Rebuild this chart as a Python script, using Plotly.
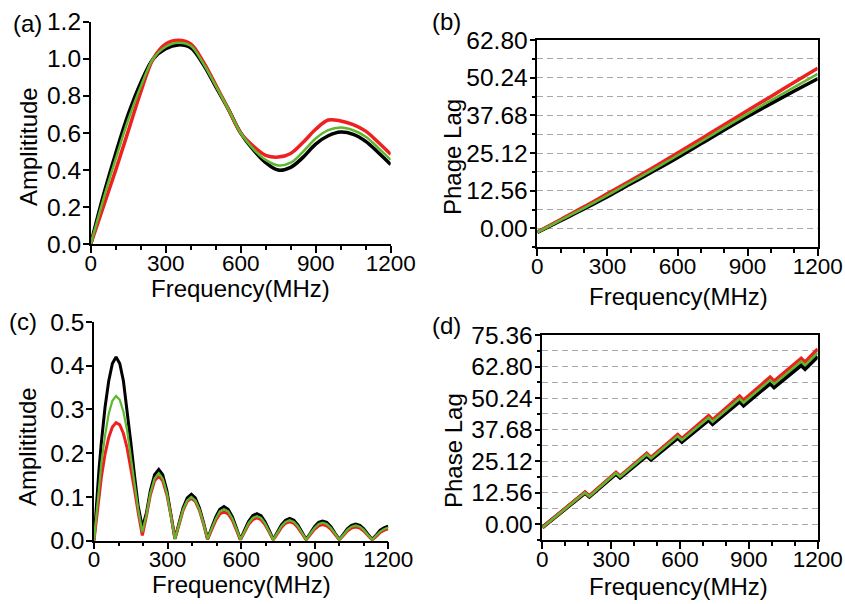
import plotly.graph_objects as go

# ---------------- data ----------------
freq_a = [0, 50, 100, 150, 200, 250, 300, 350, 400, 450, 500, 550, 600,
          650, 700, 750, 800, 850, 900, 950, 1000, 1050, 1100, 1150, 1200]
amp_a_black = [0, 0.26, 0.49, 0.70, 0.87, 1.0, 1.055, 1.075, 1.06, 0.97, 0.85, 0.73, 0.60,
               0.51, 0.44, 0.40, 0.415, 0.47, 0.54, 0.585, 0.605, 0.593, 0.555, 0.495, 0.43]
amp_a_green = [0, 0.24, 0.46, 0.67, 0.85, 1.0, 1.065, 1.087, 1.07, 0.975, 0.855, 0.73, 0.60,
               0.515, 0.455, 0.425, 0.44, 0.50, 0.57, 0.615, 0.63, 0.615, 0.58, 0.52, 0.455]
amp_a_red = [0, 0.20, 0.40, 0.61, 0.82, 1.0, 1.08, 1.10, 1.08, 0.985, 0.86, 0.73, 0.60,
             0.53, 0.48, 0.47, 0.49, 0.55, 0.62, 0.67, 0.665, 0.645, 0.61, 0.55, 0.485]

freq_b = [0, 100, 200, 300, 400, 500, 600, 700, 800, 900, 1000, 1100, 1200]
phase_b_black = [-1.3, 2.6, 6.5, 10.6, 14.9, 19.2, 23.6, 28.2, 32.8, 37.3, 41.6, 45.8, 49.9]
phase_b_green = [-1.3, 2.8, 6.8, 11.0, 15.4, 19.8, 24.3, 28.9, 33.6, 38.2, 42.7, 47.1, 51.5]
phase_b_red = [-1.2, 3.0, 7.2, 11.6, 16.0, 20.5, 25.1, 29.8, 34.6, 39.3, 44.0, 48.7, 53.4]

freq_c = [0, 10, 20, 30, 45, 60, 75, 90, 105, 120, 135, 150, 165, 180, 197,
          214, 230, 247, 264, 280, 297, 314, 330,
          347, 363, 380, 397, 413, 430, 447, 463,
          480, 497, 513, 530, 547, 564, 580, 597,
          614, 630, 647, 664, 681, 697, 714, 731,
          748, 764, 781, 798, 815, 831, 848, 865,
          882, 899, 916, 932, 949, 966, 983, 1000,
          1017, 1033, 1050, 1067, 1084, 1100, 1117, 1134,
          1151, 1167, 1184, 1200]
amp_c_black = [0, 0.085, 0.16, 0.225, 0.305, 0.365, 0.405, 0.42, 0.405, 0.365, 0.30, 0.225, 0.15, 0.08, 0.03,
               0.064, 0.115, 0.151, 0.163, 0.151, 0.115, 0.062, 0.005,
               0.041, 0.075, 0.098, 0.106, 0.098, 0.075, 0.041, 0.004,
               0.030, 0.055, 0.072, 0.078, 0.072, 0.055, 0.030, 0.003,
               0.024, 0.044, 0.057, 0.062, 0.057, 0.044, 0.024, 0.003,
               0.020, 0.036, 0.047, 0.051, 0.047, 0.036, 0.020, 0.003,
               0.017, 0.032, 0.042, 0.045, 0.042, 0.032, 0.017, 0.003,
               0.015, 0.027, 0.035, 0.038, 0.035, 0.027, 0.015, 0.003,
               0.013, 0.024, 0.030, 0.033]
amp_c_green = [0, 0.065, 0.125, 0.178, 0.24, 0.29, 0.32, 0.331, 0.322, 0.295, 0.252, 0.195, 0.132, 0.072, 0.02,
               0.059, 0.109, 0.142, 0.154, 0.142, 0.109, 0.059, 0.004,
               0.038, 0.071, 0.092, 0.100, 0.092, 0.071, 0.038, 0.004,
               0.028, 0.051, 0.067, 0.072, 0.067, 0.051, 0.028, 0.003,
               0.021, 0.040, 0.052, 0.056, 0.052, 0.040, 0.021, 0.002,
               0.018, 0.033, 0.043, 0.047, 0.043, 0.033, 0.018, 0.002,
               0.016, 0.029, 0.038, 0.041, 0.038, 0.029, 0.016, 0.002,
               0.013, 0.025, 0.032, 0.035, 0.032, 0.025, 0.013, 0.002,
               0.012, 0.021, 0.027, 0.030]
amp_c_red = [0, 0.052, 0.102, 0.145, 0.198, 0.236, 0.260, 0.27, 0.265, 0.245, 0.212, 0.168, 0.117, 0.065, 0.012,
             0.057, 0.105, 0.137, 0.148, 0.137, 0.105, 0.057, 0.004,
             0.037, 0.069, 0.090, 0.097, 0.090, 0.069, 0.037, 0.003,
             0.025, 0.047, 0.061, 0.066, 0.061, 0.047, 0.025, 0.002,
             0.020, 0.037, 0.048, 0.052, 0.048, 0.037, 0.020, 0.002,
             0.016, 0.030, 0.040, 0.043, 0.040, 0.030, 0.016, 0.002,
             0.014, 0.026, 0.034, 0.037, 0.034, 0.026, 0.014, 0.002,
             0.012, 0.022, 0.029, 0.031, 0.029, 0.022, 0.012, 0.002,
             0.010, 0.019, 0.024, 0.027]

freq_d = [0, 100, 186, 205, 321, 339, 455, 474, 590, 608, 725, 742,
          860, 877, 993, 1010, 1128, 1145, 1200]
phase_d_black = [-1.3, 6.1, 12.5, 11.0, 20.1, 18.6, 27.3, 25.7, 34.4, 32.8, 41.5, 39.9,
                 48.9, 47.3, 56.1, 54.5, 63.3, 61.8, 66.8]
phase_d_green = [-1.3, 6.2, 12.6, 11.1, 20.4, 18.9, 27.8, 26.2, 35.1, 33.5, 42.4, 40.8,
                 50.0, 48.4, 57.4, 55.8, 64.8, 63.3, 68.3]
phase_d_red = [-1.3, 6.3, 12.8, 11.3, 20.7, 19.2, 28.2, 26.6, 35.7, 34.1, 43.2, 41.6,
               51.0, 49.4, 58.6, 57.0, 66.1, 64.6, 69.8]

x_ticks = [0, 300, 600, 900, 1200]
x_minor = [100, 200, 400, 500, 700, 800, 1000, 1100]
y_ticks_b = [0, 12.56, 25.12, 37.68, 50.24, 62.80]
y_labels_b = ["0.00", "12.56", "25.12", "37.68", "50.24", "62.80"]
y_minor_b = [-6.28, 6.28, 18.84, 31.40, 43.96, 56.52]
y_ticks_d = [0, 12.56, 25.12, 37.68, 50.24, 62.80, 75.36]
y_labels_d = ["0.00", "12.56", "25.12", "37.68", "50.24", "62.80", "75.36"]
y_minor_d = [-6.28, 6.28, 18.84, 31.40, 43.96, 56.52, 69.08]

# ---------------- style ----------------
W, H = 845, 604
FONT = "Arial, 'Liberation Sans', Helvetica, sans-serif"
XTICKF = dict(family=FONT, size=22.5, color="black")
YTICKF = dict(family=FONT, size=24.5, color="black")
TITLE_SIZE = 24
BLACK, GREEN, RED = "#000000", "#5cb82c", "#ee2020"
GRID = "#a8a8a8"


def fx(px):
    return px / W


def fy(py):
    return 1 - py / H


def px_dom(x0, x1):
    return [fx(x0), fx(x1)]


def py_dom(ytop, ybot):
    return [fy(ybot), fy(ytop)]


def xaxis(dom, anchor, mirror):
    return dict(domain=dom, anchor=anchor, range=[0, 1200], automargin=False,
                tickvals=x_ticks, ticks="outside", ticklen=7, tickwidth=1.5, tickcolor="black",
                ticklabelstandoff=-9,
                minor=dict(tickvals=x_minor, ticks="outside", ticklen=4, tickwidth=1.5, tickcolor="black"),
                showline=True, linecolor="black", linewidth=1.5, mirror=mirror,
                showgrid=False, zeroline=False, tickfont=XTICKF)


fig = go.Figure()


def add(x, ys, xa, ya, widths=(3.5, 3.5, 2.5), shape="spline"):
    for y, c, w in zip(ys, (BLACK, RED, GREEN), widths):
        fig.add_trace(go.Scatter(x=x, y=y, xaxis=xa, yaxis=ya, mode="lines",
                                 line=dict(color=c, width=w, shape=shape),
                                 showlegend=False, hoverinfo="skip", cliponaxis=False))


add(freq_a, [amp_a_black, amp_a_red, amp_a_green], "x", "y")
add(freq_b, [phase_b_black, phase_b_red, phase_b_green], "x2", "y2")
add(freq_c, [amp_c_black, amp_c_red, amp_c_green], "x3", "y3", widths=(3, 3, 2.2), shape="linear")
add(freq_d, [phase_d_black, phase_d_red, phase_d_green], "x4", "y4", widths=(4, 3.5, 2.5), shape="linear")

yleft = dict(ticks="outside", ticklen=6, tickwidth=1.5, tickcolor="black", automargin=False,
             ticklabelstandoff=-3,
             showline=True, linecolor="black", linewidth=1.5,
             showgrid=False, zeroline=False, tickfont=YTICKF)
ygrid = {**yleft, "showgrid": True, "gridcolor": GRID, "griddash": "6px,4px", "gridwidth": 1}

fig.update_layout(
    width=W, height=H, margin=dict(l=0, r=0, t=0, b=0, autoexpand=False),
    paper_bgcolor="white", plot_bgcolor="white", showlegend=False,
    font=dict(family=FONT, color="black"),
    xaxis=xaxis(px_dom(90.7, 390.7), "y", False),
    yaxis=dict(domain=py_dom(21.7, 244.3), anchor="x", range=[0, 1.2], dtick=0.2, tick0=0,
               tickformat=".1f", **yleft),
    xaxis2=xaxis(px_dom(537.3, 817.7), "y2", True),
    yaxis2=dict(domain=py_dom(40, 247.3), anchor="x2", range=[-6.28, 62.8],
                tickvals=y_ticks_b, ticktext=y_labels_b, mirror=True,
                minor=dict(tickvals=y_minor_b, ticks="outside", ticklen=4, tickwidth=1.5, tickcolor="black",
                           showgrid=True, gridcolor=GRID, griddash="6px,4px", gridwidth=1),
                **ygrid),
    xaxis3=xaxis(px_dom(94, 388.3), "y3", False),
    yaxis3=dict(domain=py_dom(322, 540.7), anchor="x3", range=[0, 0.5], dtick=0.1, tick0=0,
                tickformat=".1f", **yleft),
    xaxis4=xaxis(px_dom(542.3, 817.7), "y4", True),
    yaxis4=dict(domain=py_dom(335, 540), anchor="x4", range=[-6.28, 75.36],
                tickvals=y_ticks_d, ticktext=y_labels_d, mirror=True,
                minor=dict(tickvals=y_minor_d, ticks="outside", ticklen=4, tickwidth=1.5, tickcolor="black",
                           showgrid=True, gridcolor=GRID, griddash="6px,4px", gridwidth=1),
                **ygrid),
)

# panel letters
for label, cx, cy in [("(a)", 27, 23), ("(b)", 447, 22), ("(c)", 23, 322), ("(d)", 447, 325)]:
    fig.add_annotation(text=label, x=fx(cx), y=fy(cy), xref="paper", yref="paper",
                       xanchor="center", yanchor="middle", showarrow=False,
                       font=dict(family=FONT, size=TITLE_SIZE, color="black"))

# axis titles
for text, cx, cy, ang in [("Frequency(MHz)", 240, 289, 0), ("Frequency(MHz)", 678, 296, 0),
                          ("Frequency(MHz)", 241, 584, 0), ("Frequency(MHz)", 678, 586, 0),
                          ("Amplititude", 29, 147, -90), ("Phage Lag", 453, 157, -90),
                          ("Amplititude", 28, 447, -90), ("Phase Lag", 453, 451, -90)]:
    fig.add_annotation(text=text, x=fx(cx), y=fy(cy), xref="paper", yref="paper",
                       xanchor="center", yanchor="middle", showarrow=False, textangle=ang,
                       font=dict(family=FONT, size=TITLE_SIZE, color="black"))

fig.write_html("out.html", config={"displayModeBar": False},
               post_script="document.body.style.margin='0';document.body.style.overflow='hidden';")
